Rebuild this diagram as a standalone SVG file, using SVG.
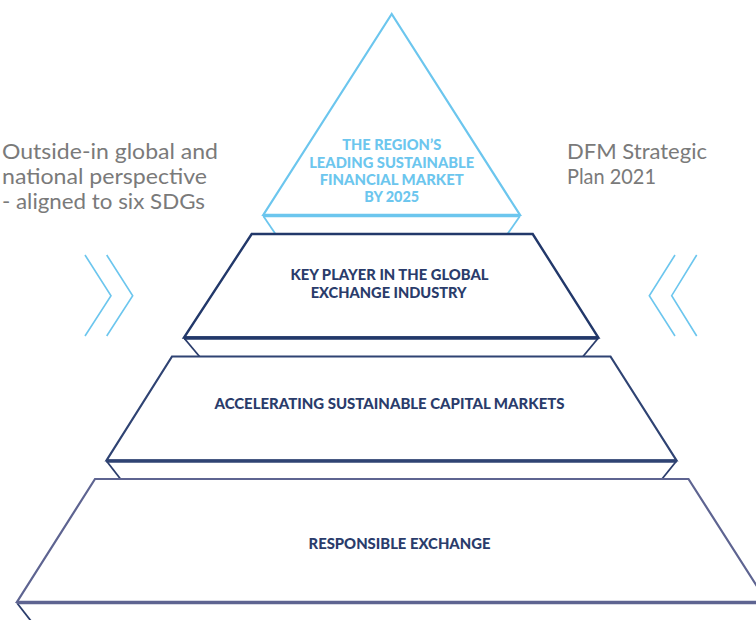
<svg xmlns="http://www.w3.org/2000/svg" width="756" height="620" viewBox="0 0 756 620">
<style>
.side{font-family:Lato,"Noto Sans","Liberation Sans",sans-serif;font-size:21px;fill:#7a7a7a}
.lbl{font-family:Lato,"Noto Sans","Liberation Sans",sans-serif;font-weight:900;font-size:14.5px;fill:#2a3c6b;text-anchor:middle}
.top{fill:#6cc6ee}
.chev{fill:none;stroke:#6cc6ee;stroke-width:1.6}
.strip{fill:none;stroke:#2a3c6b;stroke-width:1.8}
</style>
<rect width="756" height="620" fill="#ffffff"/>
<g id="text-left">
<text class="side" x="2" y="159" textLength="216" lengthAdjust="spacingAndGlyphs">Outside-in global and</text>
<text class="side" x="2" y="184" textLength="205" lengthAdjust="spacingAndGlyphs">national perspective</text>
<text class="side" x="2" y="209" textLength="203" lengthAdjust="spacingAndGlyphs">- aligned to six SDGs</text>
</g>
<g id="text-right">
<text class="side" x="567" y="159" textLength="140" lengthAdjust="spacingAndGlyphs">DFM Strategic</text>
<text class="side" x="567" y="184" textLength="89" lengthAdjust="spacingAndGlyphs">Plan 2021</text>
</g>
<g id="chevrons-left">
<polyline class="chev" points="85,255 111,295.7 85,336"/>
<polyline class="chev" points="106.7,255 132.7,295.7 106.7,336"/>
</g>
<g id="chevrons-right">
<polyline class="chev" points="675,255 649.3,295.7 675,336"/>
<polyline class="chev" points="696.7,255 671.7,295.7 696.7,336"/>
</g>
<g id="connectors"></g>
<g id="tier1">
<polyline fill="none" stroke="#6cc6ee" stroke-width="1.8" points="263.3,216 275.5,234"/>
<polyline fill="none" stroke="#6cc6ee" stroke-width="1.8" points="520,216 507.5,234"/>
<polygon points="391.7,14 263.3,215 520,215" fill="#ffffff" stroke="#6cc6ee" stroke-width="2.2" stroke-linejoin="miter"/>
<line x1="263.3" y1="215.5" x2="520" y2="215.5" stroke="#6cc6ee" stroke-width="3.5"/>
<text class="lbl top" x="391.7" y="150" textLength="99" lengthAdjust="spacingAndGlyphs">THE REGION’S</text>
<text class="lbl top" x="391.7" y="167.5" textLength="165" lengthAdjust="spacingAndGlyphs">LEADING SUSTAINABLE</text>
<text class="lbl top" x="391.7" y="185" textLength="144" lengthAdjust="spacingAndGlyphs">FINANCIAL MARKET</text>
<text class="lbl top" x="391.7" y="202.3" textLength="55" lengthAdjust="spacingAndGlyphs">BY 2025</text>
</g>
<g id="tier2">
<polyline class="strip" points="184,338 199.5,356.5"/>
<polyline class="strip" points="598.3,338 583,356.5"/>
<polygon points="251.7,234 532.7,234 598.3,337.5 184,337.5" fill="#ffffff" stroke="#22386a" stroke-width="2.4"/>
<line x1="184" y1="338" x2="598.3" y2="338" stroke="#22386a" stroke-width="3.5"/>
<text class="lbl" x="389.5" y="280" textLength="198" lengthAdjust="spacingAndGlyphs">KEY PLAYER IN THE GLOBAL</text>
<text class="lbl" x="388.7" y="297.7" textLength="156" lengthAdjust="spacingAndGlyphs">EXCHANGE INDUSTRY</text>
</g>
<g id="tier3">
<polyline class="strip" points="106.5,461 120.5,479"/>
<polyline class="strip" points="676.5,461 662,479"/>
<polygon points="172,356.5 610.5,356.5 676.5,460.5 106.5,460.5" fill="#ffffff" stroke="#2f4373" stroke-width="2.2"/>
<line x1="106.5" y1="461" x2="676.5" y2="461" stroke="#2f4373" stroke-width="3.5"/>
<text class="lbl" x="389.5" y="409" textLength="350" lengthAdjust="spacingAndGlyphs">ACCELERATING SUSTAINABLE CAPITAL MARKETS</text>
</g>
<g id="tier4">
<polyline class="strip" points="17,603 31,621"/>
<polygon points="95,479 688.5,479 767,602 17,602" fill="#ffffff" stroke="#5e6491" stroke-width="2.2"/>
<line x1="17" y1="602.5" x2="767" y2="602.5" stroke="#5e6491" stroke-width="3.5"/>
<text class="lbl" x="399.5" y="548.5" textLength="182" lengthAdjust="spacingAndGlyphs">RESPONSIBLE EXCHANGE</text>
</g>
</svg>
